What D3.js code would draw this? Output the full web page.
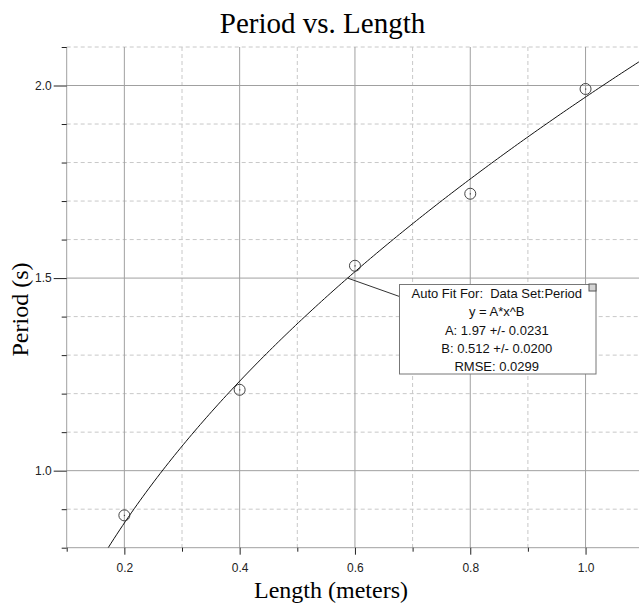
<!DOCTYPE html>
<html>
<head>
<meta charset="utf-8">
<script src="https://cdn.jsdelivr.net/npm/d3@7"></script>
<style>
  body { margin: 0; background: #fff; }
  svg { display: block; }
  .tick text { font-family: "Liberation Sans", Arial, sans-serif; font-size: 12px; fill: #222; }
  .tick line { stroke: #222; }
  .domain { display: none; }
</style>
</head>
<body>
<div id="wrapper"></div>
<script>
// data
const lengths = [0.2, 0.4, 0.6, 0.8, 1.0]
const periods = [0.884, 1.21, 1.532, 1.719, 1.991]

// auto fit y = A*x^B, as printed in the box
const fitA = 1.97
const fitB = 0.512
const fitLines = [
  "Auto Fit For:  Data Set:Period",
  "y = A*x^B",
  "A: 1.97 +/- 0.0231",
  "B: 0.512 +/- 0.0200",
  "RMSE: 0.0299"
]

const xMajor = [0.2, 0.4, 0.6, 0.8, 1.0]
const xMinor = [0.1, 0.3, 0.5, 0.7, 0.9]
const yMajor = [1.0, 1.5, 2.0]
const yMinor = [0.8, 0.9, 1.1, 1.2, 1.3, 1.4, 1.6, 1.7, 1.8, 1.9, 2.1]

const dimensions = {
  width: 639,
  height: 603,
  left: 66.7,
  top: 47,
  bottom: 547.7,
}

const svg = d3.select("#wrapper").append("svg")
  .attr("width", dimensions.width)
  .attr("height", dimensions.height)

const x = d3.scaleLinear().domain([0.1, 1.1]).range([dimensions.left, 643.2])
const y = d3.scaleLinear().domain([0.8, 2.1]).range([dimensions.bottom, dimensions.top])

svg.append("clipPath").attr("id", "plot-clip")
  .append("rect")
    .attr("x", dimensions.left)
    .attr("y", dimensions.top)
    .attr("width", dimensions.width - dimensions.left)
    .attr("height", dimensions.bottom - dimensions.top)

// grid
const grid = svg.append("g")
grid.selectAll(".vminor").data(xMinor.filter(d => d > 0.1)).join("line")
  .attr("x1", d => x(d)).attr("x2", d => x(d))
  .attr("y1", dimensions.top).attr("y2", dimensions.bottom)
  .attr("stroke", "#c8c8c8").attr("stroke-dasharray", "4,3")
grid.selectAll(".hminor").data(yMinor.filter(d => d > 0.8)).join("line")
  .attr("x1", dimensions.left).attr("x2", dimensions.width)
  .attr("y1", d => y(d)).attr("y2", d => y(d))
  .attr("stroke", "#c8c8c8").attr("stroke-dasharray", "4,3")
grid.selectAll(".vmajor").data(xMajor).join("line")
  .attr("x1", d => x(d)).attr("x2", d => x(d))
  .attr("y1", dimensions.top).attr("y2", dimensions.bottom)
  .attr("stroke", "#a0a0a0")
grid.selectAll(".hmajor").data(yMajor).join("line")
  .attr("x1", dimensions.left).attr("x2", dimensions.width)
  .attr("y1", d => y(d)).attr("y2", d => y(d))
  .attr("stroke", "#a0a0a0")

// frame lines (left + bottom)
svg.append("line")
  .attr("x1", dimensions.left).attr("x2", dimensions.left)
  .attr("y1", dimensions.top).attr("y2", dimensions.bottom)
  .attr("stroke", "#a0a0a0")
svg.append("line")
  .attr("x1", dimensions.left).attr("x2", dimensions.width)
  .attr("y1", dimensions.bottom).attr("y2", dimensions.bottom)
  .attr("stroke", "#a0a0a0")

// axes
const fmt = d3.format(".1f")
svg.append("g")
  .attr("transform", `translate(${dimensions.left},0)`)
  .call(d3.axisLeft(y).tickValues(yMinor).tickSize(5).tickFormat(""))
svg.append("g")
  .attr("transform", `translate(${dimensions.left},0)`)
  .call(d3.axisLeft(y).tickValues(yMajor).tickSize(13).tickPadding(2).tickFormat(fmt))
svg.append("g")
  .attr("transform", `translate(0,${dimensions.bottom})`)
  .call(d3.axisBottom(x).tickValues(xMinor).tickSize(4).tickFormat(""))
svg.append("g")
  .attr("transform", `translate(0,${dimensions.bottom})`)
  .call(d3.axisBottom(x).tickValues(xMajor).tickSize(7).tickPadding(9).tickFormat(fmt))

// fit curve
const fitY = v => fitA * Math.pow(v, fitB)
const xStart = Math.pow(y.domain()[0] / fitA, 1 / fitB)
const curveXs = d3.range(xStart, 1.1001, 0.005)
const line = d3.line().x(d => x(d)).y(d => y(fitY(d)))
svg.append("path")
  .datum(curveXs)
  .attr("clip-path", "url(#plot-clip)")
  .attr("d", line)
  .attr("fill", "none")
  .attr("stroke", "#111")
  .attr("stroke-width", 1)

// data points
const pts = svg.append("g")
lengths.forEach((l, i) => {
  const cx = x(l), cy = y(periods[i])
  pts.append("circle")
    .attr("cx", cx).attr("cy", cy).attr("r", 5.5)
    .attr("fill", "none").attr("stroke", "#444").attr("stroke-width", 1)
  pts.append("rect")
    .attr("x", cx - 0.5).attr("y", cy - 0.5).attr("width", 1.2).attr("height", 1.2)
    .attr("fill", "#444")
})

// fit annotation box
const box = { x: 399.5, y: 284.5, w: 196.5, h: 89.5 }
const anchorX = Math.pow(1.5 / fitA, 1 / fitB)
svg.append("line")
  .attr("x1", x(anchorX)).attr("y1", y(1.5))
  .attr("x2", box.x).attr("y2", 296.5)
  .attr("stroke", "#333")
svg.append("rect")
  .attr("x", box.x).attr("y", box.y).attr("width", box.w).attr("height", box.h)
  .attr("fill", "#fff").attr("stroke", "#777")
svg.append("rect")
  .attr("x", box.x + box.w - 7).attr("y", box.y - 0.5).attr("width", 7).attr("height", 7)
  .attr("fill", "#d4d4d4").attr("stroke", "#555")
svg.append("g").selectAll("text").data(fitLines).join("text")
  .attr("x", box.x + box.w / 2 - 1)
  .attr("y", (d, i) => 293.5 + i * 18.3)
  .attr("dy", "0.35em")
  .attr("text-anchor", "middle")
  .style("white-space", "pre")
  .style("font-family", "'Liberation Sans', Arial, sans-serif")
  .style("font-size", "13px")
  .attr("fill", "#111")
  .text(d => d)

// titles
svg.append("text")
  .attr("x", 322.5).attr("y", 33)
  .attr("text-anchor", "middle")
  .style("font-family", "'Liberation Serif', 'Times New Roman', serif")
  .style("font-size", "29px")
  .text("Period vs. Length")
svg.append("text")
  .attr("x", 331).attr("y", 597.5)
  .attr("text-anchor", "middle")
  .style("font-family", "'Liberation Serif', 'Times New Roman', serif")
  .style("font-size", "24px")
  .text("Length (meters)")
svg.append("text")
  .attr("transform", "translate(28,309.5) rotate(-90)")
  .attr("text-anchor", "middle")
  .style("font-family", "'Liberation Serif', 'Times New Roman', serif")
  .style("font-size", "24px")
  .text("Period (s)")
</script>
</body>
</html>
